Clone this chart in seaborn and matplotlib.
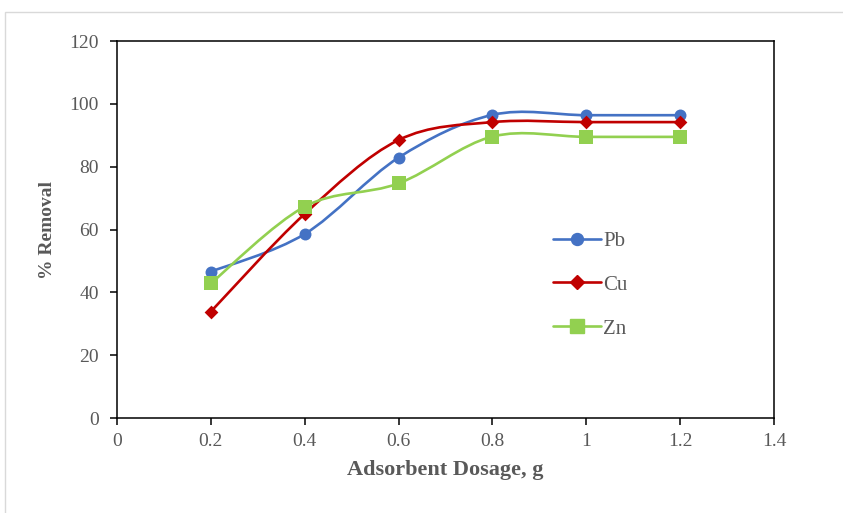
import matplotlib.pyplot as plt
import seaborn as sns
import pandas as pd
from matplotlib.path import Path
from matplotlib.patches import PathPatch, Rectangle
from matplotlib.lines import Line2D

# Data
dosage = [0.2, 0.4, 0.6, 0.8, 1.0, 1.2]
pb = [46.6, 58.6, 82.9, 96.5, 96.4, 96.4]
cu = [33.9, 65.0, 88.5, 94.2, 94.2, 94.2]
zn = [42.9, 67.3, 74.7, 89.6, 89.5, 89.5]

series_names = ['Pb', 'Cu', 'Zn']
colors = {'Pb': '#4472C4', 'Cu': '#C00000', 'Zn': '#92D050'}
markers = {'Pb': ('o', 8.6), 'Cu': ('D', 7.0), 'Zn': ('s', 10.0)}

df = pd.DataFrame({'dosage': dosage * 3,
                   'removal': pb + cu + zn,
                   'metal': [n for n in series_names for _ in dosage]})

sns.set_style('ticks')
plt.rcParams['font.family'] = ['Liberation Serif', 'DejaVu Serif']
grey = '#595959'


def smooth_path(xs, ys):
    # Excel-like smoothed line: cubic Bezier with Catmull-Rom control points
    pts = list(zip(xs, ys))
    verts = [pts[0]]
    codes = [Path.MOVETO]
    n = len(pts)
    for i in range(n - 1):
        p0 = pts[i - 1] if i > 0 else pts[i]
        p1 = pts[i]
        p2 = pts[i + 1]
        p3 = pts[i + 2] if i + 2 < n else pts[i + 1]
        c1 = (p1[0] + (p2[0] - p0[0]) / 6, p1[1] + (p2[1] - p0[1]) / 6)
        c2 = (p2[0] - (p3[0] - p1[0]) / 6, p2[1] - (p3[1] - p1[1]) / 6)
        verts += [c1, c2, p2]
        codes += [Path.CURVE4] * 3
    return Path(verts, codes)


fig = plt.figure(figsize=(8.43, 5.13), dpi=100)
ax = fig.add_axes([0.1388, 0.185, 0.7794, 0.735])

handles = []
for name in series_names:
    sub = df[df['metal'] == name]
    patch = PathPatch(smooth_path(sub['dosage'].tolist(), sub['removal'].tolist()),
                      facecolor='none', edgecolor=colors[name], lw=1.9,
                      capstyle='round', joinstyle='round')
    ax.add_patch(patch)
    m, ms = markers[name]
    sns.scatterplot(data=sub, x='dosage', y='removal', marker=m, s=ms ** 2,
                    color=colors[name], edgecolor=colors[name], linewidth=0,
                    ax=ax, zorder=3)
    handles.append(Line2D([], [], color=colors[name], lw=1.9, marker=m,
                          markersize=ms, label=name))

ax.set_xlim(0, 1.4)
ax.set_ylim(0, 120)
ax.set_xticks([0, 0.2, 0.4, 0.6, 0.8, 1.0, 1.2, 1.4])
ax.set_xticklabels(['0', '0.2', '0.4', '0.6', '0.8', '1', '1.2', '1.4'])
ax.set_yticks(range(0, 121, 20))

for s in ax.spines.values():
    s.set_visible(True)
    s.set_color('black')
    s.set_linewidth(1.1)
ax.tick_params(axis='both', direction='out', length=5, width=1.1,
               color='black', labelcolor=grey, labelsize=14, pad=6)
ax.tick_params(axis='y', pad=8)

ax.set_xlabel('Adsorbent Dosage, g', fontsize=16, fontweight='bold',
              color=grey, labelpad=7)
ax.set_ylabel('% Removal', fontsize=14, fontweight='bold', color=grey,
              labelpad=10)

leg = ax.legend(handles=handles, loc='center left',
                bbox_to_anchor=(0.635, 0.353), frameon=False, fontsize=15,
                handlelength=2.3, handletextpad=0.1, labelspacing=1.17,
                labelcolor=grey)

# faint outer frame around the chart area
fig.patches.append(Rectangle((5 / 843, -0.01), 1.0, 1 - 12 / 513 + 0.01,
                             transform=fig.transFigure, fill=False,
                             edgecolor='#D9D9D9', lw=1))

fig.savefig('out.png', dpi=100)
